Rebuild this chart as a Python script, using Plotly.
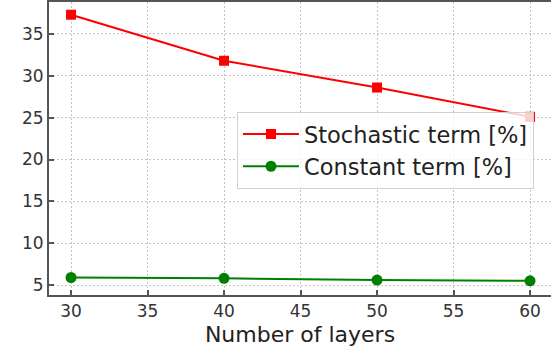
import plotly.graph_objects as go

# Energy resolution fit terms versus calorimeter depth
layers = [30, 40, 50, 60]
stochastic = [37.3, 31.8, 28.6, 25.1]
constant = [5.9, 5.8, 5.6, 5.5]

x_ticks = [30, 35, 40, 45, 50, 55, 60]
y_ticks = [5, 10, 15, 20, 25, 30, 35]

fig = go.Figure()
fig.add_trace(go.Scatter(
    x=layers, y=stochastic, mode="lines+markers",
    name="Stochastic term [%]",
    line=dict(color="#ff0000", width=2),
    marker=dict(symbol="square", size=10, color="#ff0000"),
))
fig.add_trace(go.Scatter(
    x=layers, y=constant, mode="lines+markers",
    name="Constant term [%]",
    line=dict(color="#008000", width=2),
    marker=dict(symbol="circle", size=11, color="#008000"),
))

axis_common = dict(
    showline=True, linecolor="#555555", linewidth=2,
    ticks="inside", ticklen=5, tickwidth=1.5, tickcolor="#555555",
    showgrid=True, gridcolor="#c4c4c4", gridwidth=1, griddash="2px,2px",
    zeroline=False,
    tickfont=dict(family="DejaVu Sans", size=17, color="#333333"),
)

fig.update_xaxes(
    range=[28.56, 61.37], tickvals=x_ticks, mirror=True,
    title=dict(text="Number of layers", standoff=6,
               font=dict(family="DejaVu Sans", size=22, color="#222222")),
    **axis_common,
)
fig.update_yaxes(
    range=[3.81, 38.82], tickvals=y_ticks,
    **axis_common,
)

fig.update_layout(
    width=551, height=349,
    margin=dict(l=49, r=0, t=2, b=54),
    paper_bgcolor="white", plot_bgcolor="white",
    legend=dict(
        x=0.3745, y=0.625, xanchor="left", yanchor="top",
        bgcolor="rgba(255,255,255,0.8)", bordercolor="#d0d0d0", borderwidth=1,
        font=dict(family="DejaVu Sans", size=22.5, color="#222222"),
        itemwidth=56,
        tracegroupgap=0,
    ),
    showlegend=True,
)

fig.write_html("out.html")
